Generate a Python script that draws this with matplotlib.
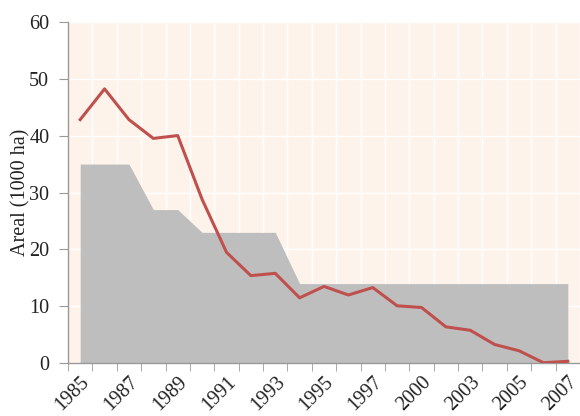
import matplotlib
matplotlib.use("Agg")
import matplotlib.pyplot as plt
import numpy as np

years = ["1985", "1986", "1987", "1988", "1989", "1990", "1991", "1992", "1993",
         "1994", "1995", "1996", "1997", "1999", "2000", "2002", "2003", "2004",
         "2005", "2006", "2007"]
area_values = [35, 35, 35, 27, 27, 23, 23, 23, 23, 14, 14, 14, 14, 14, 14, 14,
               14, 14, 14, 14, 14]
line_values = [42.8, 48.2, 42.8, 39.5, 40.0, 28.8, 19.5, 15.4, 15.8, 11.5, 13.5,
               12.0, 13.3, 10.1, 9.8, 6.4, 5.8, 3.3, 2.2, 0.1, 0.35]
y_ticks = [0, 10, 20, 30, 40, 50, 60]
y_label = "Areal (1000 ha)"

plt.rcParams['font.family'] = ['Liberation Serif', 'DejaVu Serif']

fig = plt.figure(figsize=(5.8, 4.16), dpi=100)
ax = fig.add_axes([68/580, 1 - 363.3/416, 1 - 68/580, (363.3 - 21.7)/416])
ax.set_facecolor('#FDF3EA')

x = np.arange(len(years))
ax.fill_between(x, 0, area_values, color='#BEBEBE', linewidth=0, zorder=2)
ax.plot(x, line_values, color='#C0504D', linewidth=2.2, zorder=3)

ax.set_xlim(-0.5, 20.4)
ax.set_ylim(0, 60)
ax.set_yticks(y_ticks)
ax.set_yticklabels([str(v) for v in y_ticks], fontsize=14.5, color='#222222')

ax.set_xticks(x[::2])
ax.set_xticklabels(years[::2][:6] + ["1997", "2000", "2003", "2005", "2007"],
                   rotation=45, ha='right', rotation_mode='anchor', fontsize=14.5,
                   color='#222222')
ax.tick_params(axis='x', which='major', length=0, pad=7)
ax.set_xticks(np.arange(-0.5, 21, 1), minor=True)
ax.tick_params(axis='x', which='minor', length=6, color='#999999')
ax.tick_params(axis='y', length=6.5, color='#999999', pad=7)

for v in y_ticks:
    ax.axhline(v, color='white', linewidth=1, zorder=1)
for b in np.arange(0.5, 21, 1):
    ax.axvline(b, color='white', linewidth=1, zorder=1)

for s in ['top', 'right']:
    ax.spines[s].set_visible(False)
for s in ['left', 'bottom']:
    ax.spines[s].set_color('#999999')
    ax.spines[s].set_linewidth(1)

ax.set_ylabel(y_label, fontsize=14.5, labelpad=-1, color='#222222')

fig.savefig("out.png", dpi=100)
